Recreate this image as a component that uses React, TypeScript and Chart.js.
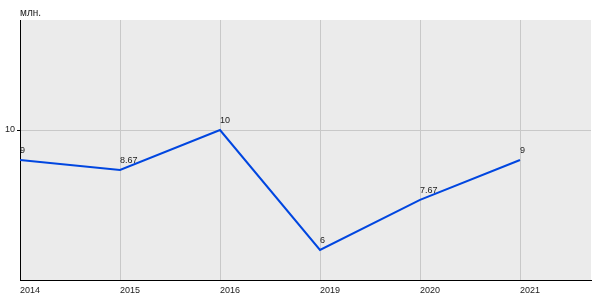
import React, { useEffect, useRef } from "react";
import { Chart, registerables } from "chart.js";

Chart.register(...registerables);

const categories = ["2014", "2015", "2016", "2019", "2020", "2021"];
const values = [9, 8.67, 10, 6, 7.67, 9];
const valueLabels = ["9", "8.67", "10", "6", "7.67", "9"];
const yTicks = [10];
const unitLabel = "млн.";

const FONT = "Liberation Sans, Arial, sans-serif";

const bgPlugin = {
  id: "bgPlugin",
  beforeDraw(chart: any) {
    const { ctx, chartArea } = chart;
    ctx.save();
    ctx.fillStyle = "#ebebeb";
    ctx.fillRect(chartArea.left, chartArea.top, chartArea.right - chartArea.left, chartArea.bottom - chartArea.top);
    ctx.restore();
  },
  afterDraw(chart: any) {
    const { ctx } = chart;
    ctx.save();
    ctx.font = `10px ${FONT}`;
    ctx.fillStyle = "#222";
    ctx.textAlign = "left";
    ctx.textBaseline = "alphabetic";
    ctx.fillText(unitLabel, chart.chartArea.left, 16);
    ctx.font = `9px ${FONT}`;
    const meta = chart.getDatasetMeta(0);
    meta.data.forEach((pt: any, i: number) => {
      ctx.textBaseline = "bottom";
      ctx.fillText(valueLabels[i], pt.x, pt.y - 5);
    });
    ctx.restore();
  },
};

export default function App() {
  const ref = useRef<HTMLCanvasElement>(null);
  useEffect(() => {
    document.body.style.margin = "0";
    const chart = new Chart(ref.current!, {
      type: "line",
      data: {
        datasets: [
          {
            data: values.map((v, i) => ({ x: i, y: v })),
            borderColor: "#0046e0",
            borderWidth: 2,
            pointRadius: 0,
            fill: false,
            tension: 0,
          },
        ],
      },
      options: {
        animation: false,
        responsive: false,
        maintainAspectRatio: false,
        layout: { padding: { top: 20, right: 9, left: 0, bottom: 0 } },
        plugins: { legend: { display: false }, tooltip: { enabled: false } },
        scales: {
          x: {
            type: "linear",
            min: 0,
            max: 5.71,
            afterBuildTicks: (s: any) => {
              s.ticks = categories.map((_, i) => ({ value: i }));
            },
            afterFit: (s: any) => {
              s.height = 20;
            },
            grid: { color: "#c8c8c8", drawTicks: false, lineWidth: 1 },
            border: { color: "#000", width: 1 },
            ticks: {
              align: "start",
              padding: 5,
              color: "#222",
              font: { family: FONT, size: 9 },
              maxRotation: 0,
              autoSkip: false,
              callback: (v: any) => categories[v as number] ?? "",
            },
          },
          y: {
            min: 5,
            max: 13.667,
            afterBuildTicks: (s: any) => {
              s.ticks = yTicks.map((v) => ({ value: v }));
            },
            afterFit: (s: any) => {
              s.width = 20;
            },
            grid: { color: "#c8c8c8", tickColor: "#000", tickLength: 3, lineWidth: 1 },
            border: { color: "#000", width: 1 },
            ticks: {
              padding: 2,
              color: "#222",
              font: { family: FONT, size: 9 },
            },
          },
        },
      },
      plugins: [bgPlugin],
    } as any);
    return () => chart.destroy();
  }, []);
  return (
    <div style={{ position: "absolute", left: 0, top: 0, width: 600, height: 300 }}>
      <canvas ref={ref} width={600} height={300} />
    </div>
  );
}
